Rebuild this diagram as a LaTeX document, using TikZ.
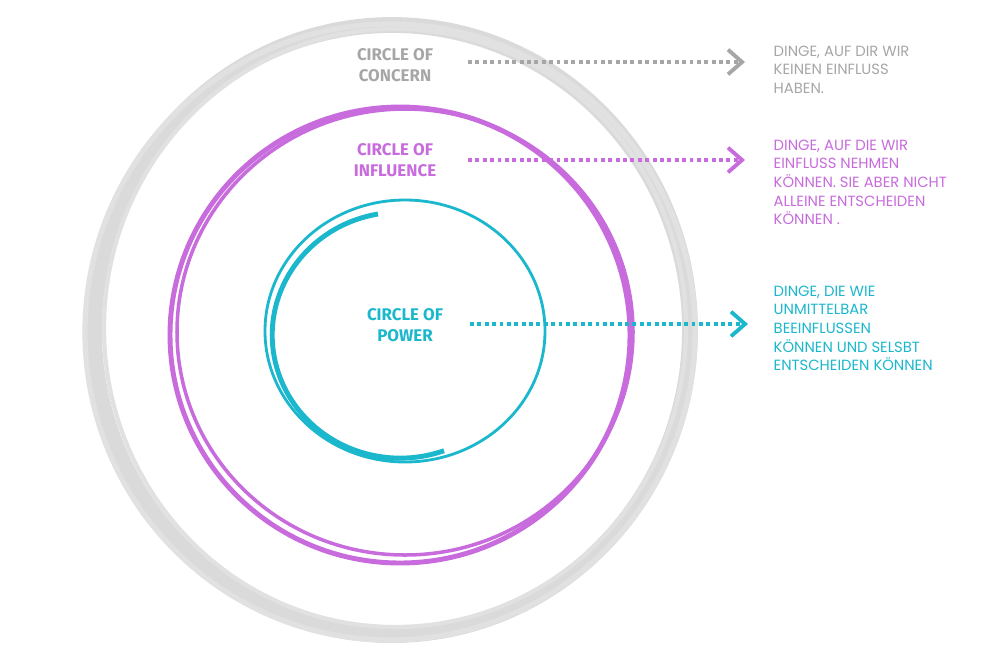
\documentclass[tikz,border=0pt]{standalone}
\usepackage{fontspec}
\setmainfont{Poppins}
\newfontfamily\labelfont{Fira Sans}
\usetikzlibrary{arrows.meta}
\definecolor{concerngray}{HTML}{A6A6A6}
\definecolor{ringgray}{HTML}{DADADA}
\definecolor{influpurple}{HTML}{C76BDD}
\definecolor{powercyan}{HTML}{1BB7CC}
\tikzset{
  circlelabel/.style={font=\labelfont\bfseries\fontsize{4.8}{6}\selectfont, align=center},
  sidetext/.style={font=\fontsize{4.2}{5.3}\selectfont, align=left, anchor=north west, inner sep=0pt},
  dotarrow/.style={line width=1.3pt, dash pattern=on 1.1pt off 1pt, -{Straight Barb[length=4pt,width=7pt,line width=1.1pt]}}
}
\begin{document}
\begin{tikzpicture}[x=0.01cm, y=-0.01cm]
\useasboundingbox (0,0) rectangle (1000,657);
% outer ring
\draw[ringgray, line width=4.5pt] (392,330) ellipse (298 and 305);
\draw[ringgray!80, line width=1.5pt] (390,332) ellipse (305 and 308);
\draw[ringgray!80, line width=1.2pt] (395,328) ellipse (291 and 299);
% middle ring
\draw[influpurple, line width=1.4pt] (400,335) ellipse (230 and 228);
\draw[influpurple, line width=1pt] (405,332) ellipse (228 and 223);
% inner ring
\draw[powercyan, line width=0.8pt] (405,331) ellipse (140 and 131);
\draw[powercyan, line width=1.4pt] (378,214) arc (260:70:128 and 123);

\node[circlelabel, text=concerngray] (concern) at (395,65) {CIRCLE OF\\CONCERN};
\node[circlelabel, text=influpurple] (influence) at (395,160) {CIRCLE OF\\INFLUENCE};
\node[circlelabel, text=powercyan] (power) at (405,325) {CIRCLE OF\\POWER};

\node[sidetext, text=concerngray] (concerntxt) at (773,45) {DINGE, AUF DIR WIR\\KEINEN EINFLUSS\\HABEN.};
\node[sidetext, text=influpurple] (influtxt) at (773,139) {DINGE, AUF DIE WIR\\EINFLUSS NEHMEN\\KÖNNEN. SIE ABER NICHT\\ALLEINE ENTSCHEIDEN\\KÖNNEN .};
\node[sidetext, text=powercyan] (powertxt) at (773,285) {DINGE, DIE WIE\\UNMITTELBAR\\BEEINFLUSSEN\\KÖNNEN UND SELSBT\\ENTSCHEIDEN KÖNNEN};

\coordinate (concernstart) at (468,62);
\coordinate (concernend) at (745,62);
\coordinate (influstart) at (468,160);
\coordinate (influend) at (745,160);
\coordinate (powerstart) at (470,324);
\coordinate (powerend) at (748,324);
\draw[dotarrow, concerngray] (concernstart) -- (concernend);
\draw[dotarrow, influpurple] (influstart) -- (influend);
\draw[dotarrow, powercyan] (powerstart) -- (powerend);
\end{tikzpicture}
\end{document}
